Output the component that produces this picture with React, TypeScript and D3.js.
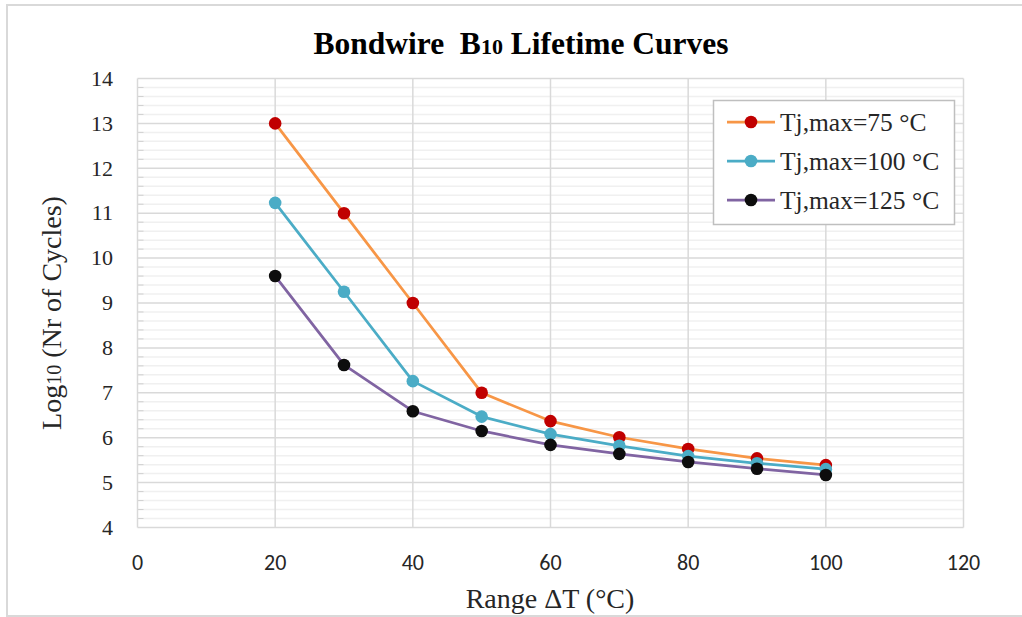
import { useEffect, useRef } from 'react'
import * as d3 from 'd3'

const W = 1022
const H = 617

const deltaT = [20, 30, 40, 50, 60, 70, 80, 90, 100]
const tj75 = [13.0, 11.0, 9.0, 7.0, 6.37, 6.01, 5.75, 5.54, 5.39]
const tj100 = [11.23, 9.25, 7.26, 6.47, 6.08, 5.82, 5.59, 5.43, 5.3]
const tj125 = [9.6, 7.62, 6.59, 6.15, 5.84, 5.64, 5.46, 5.31, 5.17]

const seriesNames = ['Tj,max=75 °C', 'Tj,max=100 °C', 'Tj,max=125 °C']
const lineColors = ['#f79646', '#4bacc6', '#8064a2']
const markerColors = ['#c00000', '#4bacc6', '#0d0d0d']

const xTicks = [0, 20, 40, 60, 80, 100, 120]
const yTicks = [4, 5, 6, 7, 8, 9, 10, 11, 12, 13, 14]

const SERIF = '"Liberation Serif", "Times New Roman", serif'
const SANS = 'Carlito, Lato, "Open Sans", sans-serif'

export default function App() {
  const svgRef = useRef<SVGSVGElement>(null)

  useEffect(() => {
    if (!svgRef.current) return
    const svg = d3.select(svgRef.current)
    svg.selectAll('*').remove()

    const left = 137.5
    const right = 963.5
    const top = 78.5
    const bottom = 527.5

    const x = d3.scaleLinear().domain([0, 120]).range([left, right])
    const y = d3.scaleLinear().domain([4, 14]).range([bottom, top])

    // outer frame
    svg
      .append('rect')
      .attr('x', 7)
      .attr('y', 5)
      .attr('width', W + 20)
      .attr('height', 611)
      .attr('fill', '#fff')
      .attr('stroke', '#d9d9d9')
      .attr('stroke-width', 2)

    // minor horizontal grid
    const minor = d3.range(4, 14.001, 0.2).filter((v) => Math.abs(v - Math.round(v)) > 0.01)
    svg
      .append('g')
      .selectAll('line')
      .data(minor)
      .join('line')
      .attr('x1', left)
      .attr('x2', right)
      .attr('y1', (d) => y(d))
      .attr('y2', (d) => y(d))
      .attr('stroke', '#f0f0f0')
      .attr('stroke-width', 1.5)

    // minor tick marks on y axis
    svg
      .append('g')
      .selectAll('line')
      .data(minor)
      .join('line')
      .attr('x1', left)
      .attr('x2', left + 6)
      .attr('y1', (d) => y(d))
      .attr('y2', (d) => y(d))
      .attr('stroke', '#d0d0d0')
      .attr('stroke-width', 1)

    // major horizontal grid
    svg
      .append('g')
      .selectAll('line')
      .data(yTicks)
      .join('line')
      .attr('x1', left)
      .attr('x2', right)
      .attr('y1', (d) => y(d))
      .attr('y2', (d) => y(d))
      .attr('stroke', '#d9d9d9')
      .attr('stroke-width', 1.5)

    // vertical grid
    svg
      .append('g')
      .selectAll('line')
      .data(xTicks)
      .join('line')
      .attr('x1', (d) => x(d))
      .attr('x2', (d) => x(d))
      .attr('y1', top)
      .attr('y2', bottom)
      .attr('stroke', '#d9d9d9')
      .attr('stroke-width', 1.5)

    // y tick labels
    svg
      .append('g')
      .selectAll('text')
      .data(yTicks)
      .join('text')
      .attr('x', 113)
      .attr('y', (d) => y(d))
      .attr('dy', '0.33em')
      .attr('text-anchor', 'end')
      .style('font-family', SERIF)
      .style('font-size', '22px')
      .attr('fill', '#262626')
      .text((d) => d)

    // x tick labels
    svg
      .append('g')
      .selectAll('text')
      .data(xTicks)
      .join('text')
      .attr('x', (d) => x(d))
      .attr('y', 562)
      .attr('dy', '0.35em')
      .attr('text-anchor', 'middle')
      .style('font-family', SANS)
      .style('font-size', '22px')
      .attr('fill', '#262626')
      .text((d) => d)

    // title
    const title = svg
      .append('text')
      .attr('x', 521)
      .attr('y', 54)
      .attr('text-anchor', 'middle')
      .style('font-family', SERIF)
      .style('font-size', '31.5px')
      .style('font-weight', 'bold')
      .attr('fill', '#000')
    title.append('tspan').text('Bondwire\u00a0 B')
    title.append('tspan').style('font-size', '22px').text('10')
    title.append('tspan').text(' Lifetime Curves')

    // axis titles
    svg
      .append('text')
      .attr('x', 550)
      .attr('y', 608)
      .attr('text-anchor', 'middle')
      .style('font-family', SERIF)
      .style('font-size', '28px')
      .attr('fill', '#262626')
      .text('Range ΔT (°C)')

    const yt = svg
      .append('text')
      .attr('transform', 'translate(61,313) rotate(-90)')
      .attr('text-anchor', 'middle')
      .style('font-family', SERIF)
      .style('font-size', '28px')
      .attr('fill', '#262626')
    yt.append('tspan').text('Log')
    yt.append('tspan').style('font-size', '20px').text('10')
    yt.append('tspan').text(' (Nr of Cycles)')

    // series
    const allSeries = [tj75, tj100, tj125]
    const line = d3
      .line<number>()
      .x((_, i) => x(deltaT[i]))
      .y((d) => y(d))

    allSeries.forEach((vals, si) => {
      svg
        .append('path')
        .datum(vals)
        .attr('d', line)
        .attr('fill', 'none')
        .attr('stroke', lineColors[si])
        .attr('stroke-width', 2.75)
        .attr('stroke-linejoin', 'round')
    })
    allSeries.forEach((vals, si) => {
      svg
        .append('g')
        .selectAll('circle')
        .data(vals)
        .join('circle')
        .attr('cx', (_, i) => x(deltaT[i]))
        .attr('cy', (d) => y(d))
        .attr('r', 6.3)
        .attr('fill', markerColors[si])
    })

    // legend
    const lg = svg.append('g')
    lg.append('rect')
      .attr('x', 713.5)
      .attr('y', 100.5)
      .attr('width', 241)
      .attr('height', 124)
      .attr('fill', '#fff')
      .attr('stroke', '#bfbfbf')
      .attr('stroke-width', 1.5)
    const rows = [122, 161, 200]
    seriesNames.forEach((name, i) => {
      lg.append('line')
        .attr('x1', 727)
        .attr('x2', 775)
        .attr('y1', rows[i])
        .attr('y2', rows[i])
        .attr('stroke', lineColors[i])
        .attr('stroke-width', 2.75)
      lg.append('circle')
        .attr('cx', 751)
        .attr('cy', rows[i])
        .attr('r', 6.3)
        .attr('fill', markerColors[i])
      lg.append('text')
        .attr('x', 780)
        .attr('y', rows[i])
        .attr('dy', '0.35em')
        .style('font-family', SERIF)
        .style('font-size', '25.5px')
        .attr('fill', '#262626')
        .text(name)
    })
  }, [])

  return (
    <svg
      ref={svgRef}
      width={W}
      height={H}
      style={{ display: 'block', position: 'absolute', left: 0, top: 0, background: '#fff' }}
    />
  )
}
